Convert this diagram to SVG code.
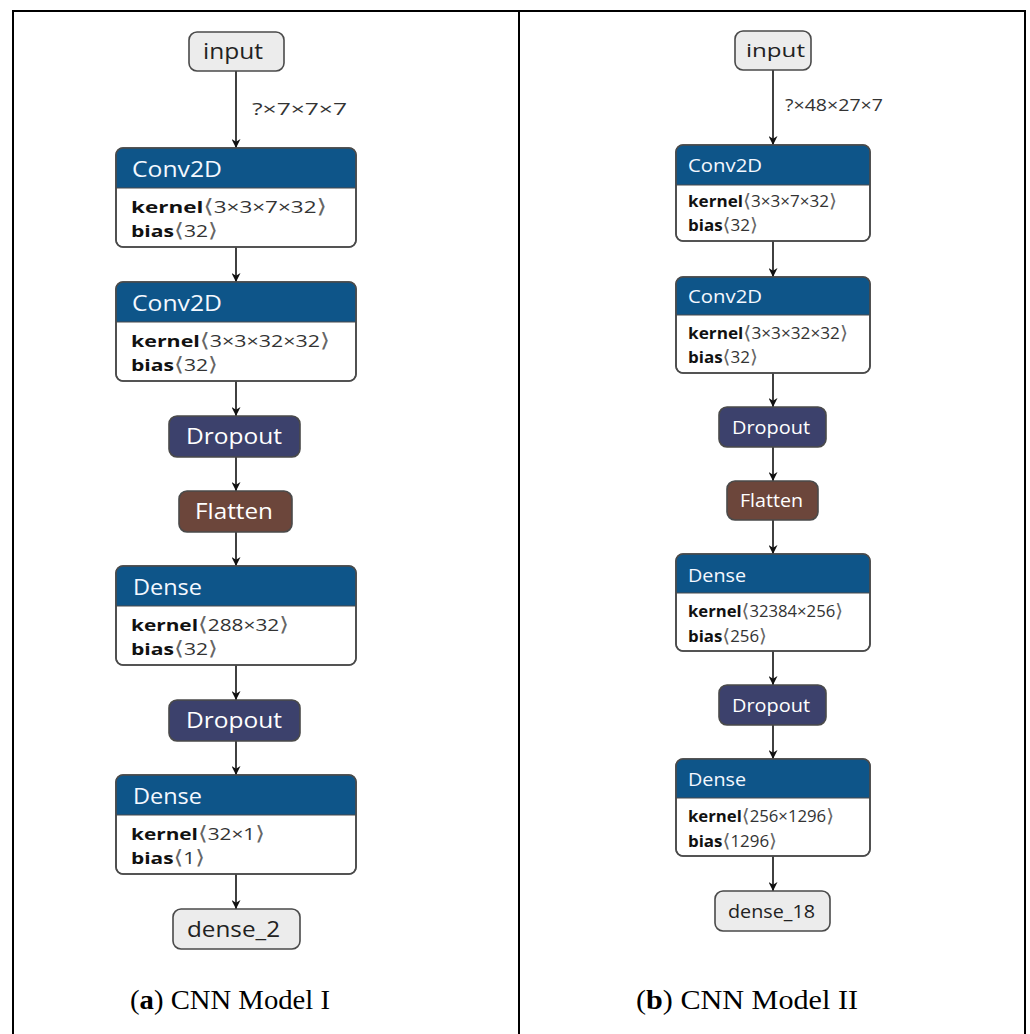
<svg xmlns="http://www.w3.org/2000/svg" width="1030" height="1034" viewBox="0 0 1030 1034">
<defs>
<marker id="ah" viewBox="0 0 10 10" refX="10" refY="5" markerWidth="9" markerHeight="9" markerUnits="userSpaceOnUse" orient="auto">
<path d="M0,0 L10,5 L0,10 L3,5 Z" fill="#111"/>
</marker>
</defs>
<style>
.frame{fill:none;stroke:#000;stroke-width:2}
.box{fill:#fff;stroke:#4a4a4a;stroke-width:1.6}
.boxo{fill:none;stroke:#4a4a4a;stroke-width:1.6}
.hdr{fill:#0e5589}
.io{fill:#ececec;stroke:#4a4a4a;stroke-width:1.6}
.drop{fill:#3c416c;stroke:#4a4a4a;stroke-width:1.6}
.flat{fill:#6c463b;stroke:#4a4a4a;stroke-width:1.6}
text{font-family:"Open Sans","Noto Sans","DejaVu Sans",sans-serif}
.ht{fill:#f4f8ff;font-size:21px}
.htr{fill:#f4f8ff;font-size:19px}
.iot{fill:#222;font-size:21px}
.iotr{fill:#222;font-size:19px}
.wt{fill:#fff;font-size:21px}
.wtr{fill:#fff;font-size:19px}
.at{fill:#111;font-size:16.5px}
.atr{fill:#111;font-size:15.5px}
.b{font-weight:bold}
.v{fill:#333}
.k{font-family:"DejaVu Sans",sans-serif;fill:#666;font-weight:normal;font-size:1.2em}
.el{fill:#333;font-size:16.5px}
.elr{fill:#333;font-size:15.5px}
.edge{stroke:#111;stroke-width:1.6;fill:none;marker-end:url(#ah)}
.cap{font-family:"Liberation Serif","Times New Roman",serif;font-size:27px;fill:#000}
</style>
<rect width="1030" height="1034" fill="#fff"/>
<path class="frame" d="M13,1034 V11 H1025 V1034 M519,11 V1034"/>

<g id="edges">
<path class="edge" d="M236,71 V148"/>
<path class="edge" d="M236,247 V282"/>
<path class="edge" d="M236,381 V416"/>
<path class="edge" d="M236,457 V491"/>
<path class="edge" d="M236,532 V566"/>
<path class="edge" d="M236,665 V700"/>
<path class="edge" d="M236,741 V775"/>
<path class="edge" d="M236,874 V909"/>
<text class="el" x="252" y="115" textLength="95" lengthAdjust="spacingAndGlyphs">?×7×7×7</text>
<path class="edge" d="M773,70 V145"/>
<path class="edge" d="M773,241 V277"/>
<path class="edge" d="M773,373 V407"/>
<path class="edge" d="M773,447 V481"/>
<path class="edge" d="M773,520 V554"/>
<path class="edge" d="M773,651 V685"/>
<path class="edge" d="M773,725 V759"/>
<path class="edge" d="M773,856 V891"/>
<text class="elr" x="785" y="111" textLength="98" lengthAdjust="spacingAndGlyphs">?×48×27×7</text>
</g>

<!-- Left model -->
<g id="a_input"><rect class="io" x="189" y="32" width="95" height="39" rx="8"/><text class="iot" x="203" y="59" textLength="60" lengthAdjust="spacingAndGlyphs">input</text></g>
<g id="a_conv1">
<rect class="box" x="116" y="148" width="240" height="99" rx="7"/>
<path class="hdr" d="M116,188 V155 A7,7 0 0 1 123,148 H349 A7,7 0 0 1 356,155 V188 Z"/>
<rect class="boxo" x="116" y="148" width="240" height="99" rx="7"/>
<line x1="116" y1="188" x2="356" y2="188" stroke="#4a4a4a" stroke-width="1"/>
<text class="ht" x="132" y="177" textLength="90" lengthAdjust="spacingAndGlyphs">Conv2D</text>
<text class="at" x="131" y="213" textLength="196" lengthAdjust="spacingAndGlyphs"><tspan class="b">kernel</tspan><tspan class="k">⟨</tspan><tspan class="v">3×3×7×32</tspan><tspan class="k">⟩</tspan></text>
<text class="at" x="131" y="237" textLength="87" lengthAdjust="spacingAndGlyphs"><tspan class="b">bias</tspan><tspan class="k">⟨</tspan><tspan class="v">32</tspan><tspan class="k">⟩</tspan></text>
</g>
<g id="a_conv2">
<rect class="box" x="116" y="282" width="240" height="99" rx="7"/>
<path class="hdr" d="M116,322 V289 A7,7 0 0 1 123,282 H349 A7,7 0 0 1 356,289 V322 Z"/>
<rect class="boxo" x="116" y="282" width="240" height="99" rx="7"/>
<line x1="116" y1="322" x2="356" y2="322" stroke="#4a4a4a" stroke-width="1"/>
<text class="ht" x="132" y="311" textLength="90" lengthAdjust="spacingAndGlyphs">Conv2D</text>
<text class="at" x="131" y="347" textLength="199" lengthAdjust="spacingAndGlyphs"><tspan class="b">kernel</tspan><tspan class="k">⟨</tspan><tspan class="v">3×3×32×32</tspan><tspan class="k">⟩</tspan></text>
<text class="at" x="131" y="371" textLength="87" lengthAdjust="spacingAndGlyphs"><tspan class="b">bias</tspan><tspan class="k">⟨</tspan><tspan class="v">32</tspan><tspan class="k">⟩</tspan></text>
</g>
<g id="a_dropout1"><rect class="drop" x="169" y="416" width="131" height="41" rx="8"/><text class="wt" x="186" y="444" textLength="96" lengthAdjust="spacingAndGlyphs">Dropout</text></g>
<g id="a_flatten"><rect class="flat" x="179" y="491" width="113" height="41" rx="8"/><text class="wt" x="195" y="519" textLength="78" lengthAdjust="spacingAndGlyphs">Flatten</text></g>
<g id="a_dense1">
<rect class="box" x="116" y="566" width="240" height="99" rx="7"/>
<path class="hdr" d="M116,606 V573 A7,7 0 0 1 123,566 H349 A7,7 0 0 1 356,573 V606 Z"/>
<rect class="boxo" x="116" y="566" width="240" height="99" rx="7"/>
<line x1="116" y1="606" x2="356" y2="606" stroke="#4a4a4a" stroke-width="1"/>
<text class="ht" x="133" y="595" textLength="69" lengthAdjust="spacingAndGlyphs">Dense</text>
<text class="at" x="131" y="631" textLength="158" lengthAdjust="spacingAndGlyphs"><tspan class="b">kernel</tspan><tspan class="k">⟨</tspan><tspan class="v">288×32</tspan><tspan class="k">⟩</tspan></text>
<text class="at" x="131" y="655" textLength="87" lengthAdjust="spacingAndGlyphs"><tspan class="b">bias</tspan><tspan class="k">⟨</tspan><tspan class="v">32</tspan><tspan class="k">⟩</tspan></text>
</g>
<g id="a_dropout2"><rect class="drop" x="169" y="700" width="131" height="41" rx="8"/><text class="wt" x="186" y="728" textLength="96" lengthAdjust="spacingAndGlyphs">Dropout</text></g>
<g id="a_dense2">
<rect class="box" x="116" y="775" width="240" height="99" rx="7"/>
<path class="hdr" d="M116,815 V782 A7,7 0 0 1 123,775 H349 A7,7 0 0 1 356,782 V815 Z"/>
<rect class="boxo" x="116" y="775" width="240" height="99" rx="7"/>
<line x1="116" y1="815" x2="356" y2="815" stroke="#4a4a4a" stroke-width="1"/>
<text class="ht" x="133" y="804" textLength="69" lengthAdjust="spacingAndGlyphs">Dense</text>
<text class="at" x="131" y="840" textLength="134" lengthAdjust="spacingAndGlyphs"><tspan class="b">kernel</tspan><tspan class="k">⟨</tspan><tspan class="v">32×1</tspan><tspan class="k">⟩</tspan></text>
<text class="at" x="131" y="864" textLength="74" lengthAdjust="spacingAndGlyphs"><tspan class="b">bias</tspan><tspan class="k">⟨</tspan><tspan class="v">1</tspan><tspan class="k">⟩</tspan></text>
</g>
<g id="a_output"><rect class="io" x="173" y="909" width="127" height="40" rx="8"/><text class="iot" x="187" y="937" textLength="93" lengthAdjust="spacingAndGlyphs">dense_2</text></g>

<!-- Right model -->
<g id="b_input"><rect class="io" x="735" y="31" width="76" height="39" rx="8"/><text class="iotr" x="746" y="57" textLength="59" lengthAdjust="spacingAndGlyphs">input</text></g>
<g id="b_conv1">
<rect class="box" x="676" y="145" width="194" height="96" rx="7"/>
<path class="hdr" d="M676,185 V152 A7,7 0 0 1 683,145 H863 A7,7 0 0 1 870,152 V185 Z"/>
<rect class="boxo" x="676" y="145" width="194" height="96" rx="7"/>
<line x1="676" y1="185" x2="870" y2="185" stroke="#4a4a4a" stroke-width="1"/>
<text class="htr" x="688" y="172" textLength="74" lengthAdjust="spacingAndGlyphs">Conv2D</text>
<text class="atr" x="688" y="207" textLength="149" lengthAdjust="spacingAndGlyphs"><tspan class="b">kernel</tspan><tspan class="k">⟨</tspan><tspan class="v">3×3×7×32</tspan><tspan class="k">⟩</tspan></text>
<text class="atr" x="688" y="231" textLength="70" lengthAdjust="spacingAndGlyphs"><tspan class="b">bias</tspan><tspan class="k">⟨</tspan><tspan class="v">32</tspan><tspan class="k">⟩</tspan></text>
</g>
<g id="b_conv2">
<rect class="box" x="676" y="277" width="194" height="96" rx="7"/>
<path class="hdr" d="M676,315 V284 A7,7 0 0 1 683,277 H863 A7,7 0 0 1 870,284 V315 Z"/>
<rect class="boxo" x="676" y="277" width="194" height="96" rx="7"/>
<line x1="676" y1="315" x2="870" y2="315" stroke="#4a4a4a" stroke-width="1"/>
<text class="htr" x="688" y="303" textLength="74" lengthAdjust="spacingAndGlyphs">Conv2D</text>
<text class="atr" x="688" y="339" textLength="160" lengthAdjust="spacingAndGlyphs"><tspan class="b">kernel</tspan><tspan class="k">⟨</tspan><tspan class="v">3×3×32×32</tspan><tspan class="k">⟩</tspan></text>
<text class="atr" x="688" y="363" textLength="70" lengthAdjust="spacingAndGlyphs"><tspan class="b">bias</tspan><tspan class="k">⟨</tspan><tspan class="v">32</tspan><tspan class="k">⟩</tspan></text>
</g>
<g id="b_dropout1"><rect class="drop" x="719" y="407" width="107" height="40" rx="8"/><text class="wtr" x="732" y="434" textLength="78" lengthAdjust="spacingAndGlyphs">Dropout</text></g>
<g id="b_flatten"><rect class="flat" x="727" y="481" width="91" height="39" rx="8"/><text class="wtr" x="740" y="507" textLength="63" lengthAdjust="spacingAndGlyphs">Flatten</text></g>
<g id="b_dense1">
<rect class="box" x="676" y="554" width="194" height="97" rx="7"/>
<path class="hdr" d="M676,593 V561 A7,7 0 0 1 683,554 H863 A7,7 0 0 1 870,561 V593 Z"/>
<rect class="boxo" x="676" y="554" width="194" height="97" rx="7"/>
<line x1="676" y1="593" x2="870" y2="593" stroke="#4a4a4a" stroke-width="1"/>
<text class="htr" x="688" y="582" textLength="58" lengthAdjust="spacingAndGlyphs">Dense</text>
<text class="atr" x="688" y="617" textLength="155" lengthAdjust="spacingAndGlyphs"><tspan class="b">kernel</tspan><tspan class="k">⟨</tspan><tspan class="v">32384×256</tspan><tspan class="k">⟩</tspan></text>
<text class="atr" x="688" y="642" textLength="79" lengthAdjust="spacingAndGlyphs"><tspan class="b">bias</tspan><tspan class="k">⟨</tspan><tspan class="v">256</tspan><tspan class="k">⟩</tspan></text>
</g>
<g id="b_dropout2"><rect class="drop" x="719" y="685" width="107" height="40" rx="8"/><text class="wtr" x="732" y="712" textLength="78" lengthAdjust="spacingAndGlyphs">Dropout</text></g>
<g id="b_dense2">
<rect class="box" x="676" y="759" width="194" height="97" rx="7"/>
<path class="hdr" d="M676,798 V766 A7,7 0 0 1 683,759 H863 A7,7 0 0 1 870,766 V798 Z"/>
<rect class="boxo" x="676" y="759" width="194" height="97" rx="7"/>
<line x1="676" y1="798" x2="870" y2="798" stroke="#4a4a4a" stroke-width="1"/>
<text class="htr" x="688" y="786" textLength="58" lengthAdjust="spacingAndGlyphs">Dense</text>
<text class="atr" x="688" y="822" textLength="146" lengthAdjust="spacingAndGlyphs"><tspan class="b">kernel</tspan><tspan class="k">⟨</tspan><tspan class="v">256×1296</tspan><tspan class="k">⟩</tspan></text>
<text class="atr" x="688" y="847" textLength="89" lengthAdjust="spacingAndGlyphs"><tspan class="b">bias</tspan><tspan class="k">⟨</tspan><tspan class="v">1296</tspan><tspan class="k">⟩</tspan></text>
</g>
<g id="b_output"><rect class="io" x="715" y="891" width="115" height="40" rx="8"/><text class="iotr" x="728" y="918" textLength="87" lengthAdjust="spacingAndGlyphs">dense_18</text></g>

<text class="cap" x="130" y="1009" textLength="200" lengthAdjust="spacingAndGlyphs">(<tspan font-weight="bold">a</tspan>) CNN Model I</text>
<text class="cap" x="636" y="1009" textLength="222" lengthAdjust="spacingAndGlyphs">(<tspan font-weight="bold">b</tspan>) CNN Model II</text>
</svg>
